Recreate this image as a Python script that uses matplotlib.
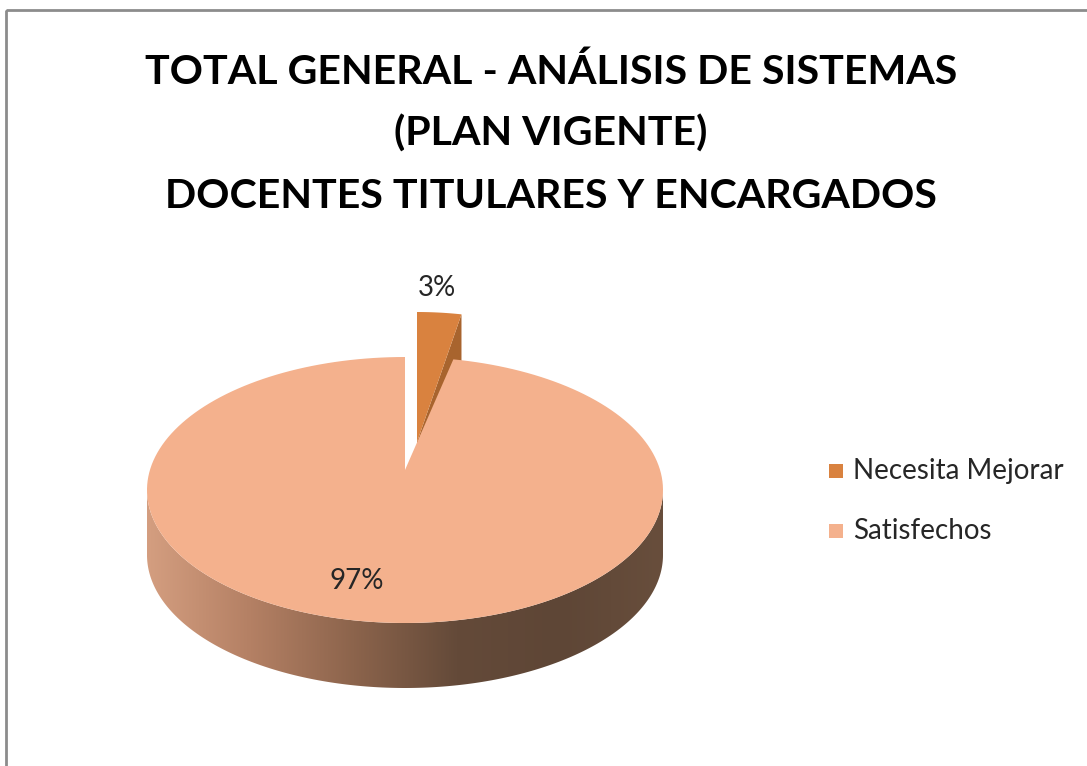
import numpy as np
import matplotlib
matplotlib.use("Agg")
import matplotlib.pyplot as plt
from matplotlib.patches import Polygon, Rectangle

# datos del grafico
categorias = ['Necesita Mejorar', 'Satisfechos']
porcentajes = [3, 97]
colores = ['#D9823F', '#F4B18D']
color_corte = '#A8642E'
titulo = ['TOTAL GENERAL - ANÁLISIS DE SISTEMAS', '(PLAN VIGENTE)',
          'DOCENTES TITULARES Y ENCARGADOS']

plt.rcParams['font.family'] = ['Lato', 'DejaVu Sans']

W, H = 1087, 766
fig = plt.figure(figsize=(W / 100, H / 100), dpi=100)
ax = fig.add_axes([0, 0, 1, 1])
ax.set_xlim(0, W)
ax.set_ylim(H, 0)
ax.axis('off')

# marco gris del area del grafico
ax.add_patch(Rectangle((6, 10), W + 20, H + 20, fill=False, edgecolor='#8c8c8c', linewidth=2))

# geometria de la torta (pseudo 3D con algo de perspectiva)
cx, cy, rx, ry, alto = 405, 490, 258, 133, 65
vertice = (405, 470)          # centro proyectado de la torta
desplaz_borde = (12, -45)     # porcion separada: borde
desplaz_vert = (12, -28)      # porcion separada: vertice
escala_sep = 0.92


def punto(th, dx=0, dy=0, dz=0, esc=1.0):
    t = np.radians(th)
    return cx + dx + esc * rx * np.sin(t), cy + dy - ry * np.cos(t) + dz


def arco(a, b, dx=0, dy=0, dz=0, esc=1.0, n=200):
    th = np.linspace(a, b, n)
    xs, ys = punto(th, dx, dy, dz, esc)
    return np.column_stack([xs, ys])


angulos = np.concatenate([[0], np.cumsum(porcentajes) / sum(porcentajes) * 360])

# porcion pequena separada: cara de corte y cara superior
a0, a1 = angulos[0], angulos[1]
dx, dy = desplaz_borde
v_sep = (vertice[0] + desplaz_vert[0], vertice[1] + desplaz_vert[1])
p1 = punto(a1, dx, dy, esc=escala_sep)
cara = [v_sep, p1, (p1[0], p1[1] + alto), (v_sep[0], v_sep[1] + alto)]
ax.add_patch(Polygon(cara, closed=True, facecolor=color_corte, edgecolor='none'))
sup = np.vstack([[v_sep], arco(a0, a1, dx, dy, esc=escala_sep), [v_sep]])
ax.add_patch(Polygon(sup, closed=True, facecolor=colores[0], edgecolor='none'))

# porcion grande: lateral con degradado
b0, b1 = angulos[1], angulos[2]
lat_a, lat_b = max(b0, 90), min(b1, 270)
lado = np.vstack([arco(lat_a, lat_b), arco(lat_b, lat_a, dz=alto)])
poly_lado = Polygon(lado, closed=True, facecolor='none', edgecolor='none')
ax.add_patch(poly_lado)
paradas = np.array([[212, 158, 128], [180, 128, 100], [140, 100, 76],
                    [100, 74, 57], [94, 70, 54], [104, 78, 60]]) / 255
xs_par = np.linspace(0, 1, len(paradas))
xx = np.linspace(0, 1, 400)
grad = np.stack([np.interp(xx, xs_par, paradas[:, k]) for k in range(3)], axis=-1)
img = ax.imshow(grad[np.newaxis, :, :], extent=(cx - rx, cx + rx, cy + ry + alto, cy - 5),
                aspect='auto', interpolation='bilinear', zorder=1)
img.set_clip_path(poly_lado)
ax.set_xlim(0, W)
ax.set_ylim(H, 0)

# cara superior de la porcion grande
sup2 = np.vstack([[vertice], arco(b0, b1), [vertice]])
ax.add_patch(Polygon(sup2, closed=True, facecolor=colores[1], edgecolor='none', zorder=2))

# etiquetas de datos
ax.text(437, 288, f'{porcentajes[0]}%', ha='center', va='center', fontsize=20, color='#262626', zorder=3)
ax.text(357, 581, f'{porcentajes[1]}%', ha='center', va='center', fontsize=20, color='#262626', zorder=3)

# titulo
for i, linea in enumerate(titulo):
    ax.text(551, 72 + i * 62, linea, ha='center', va='center', fontsize=29.6,
            fontweight='bold', color='black')

# leyenda
for i, (cat, col) in enumerate(zip(categorias, colores)):
    y = 471 + i * 60
    ax.add_patch(Rectangle((829, y - 7), 14, 14, facecolor=col, edgecolor='none'))
    ax.text(853, y, cat, ha='left', va='center', fontsize=20, color='#262626')

fig.savefig('out.png', dpi=100)
